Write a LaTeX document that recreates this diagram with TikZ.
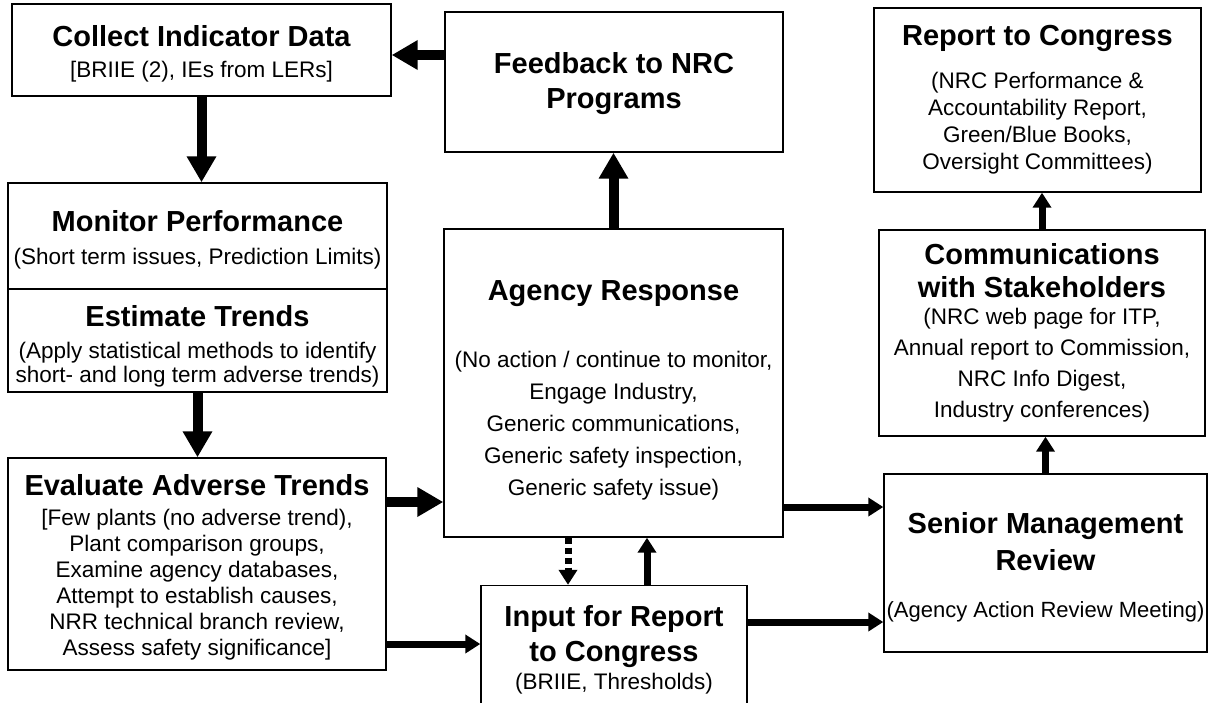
\documentclass[tikz,border=0pt]{standalone}
\usepackage{fontspec}
\setmainfont{Liberation Sans}
\usetikzlibrary{arrows.meta}

\newcommand{\boxtitle}[1]{{\fontsize{29}{34}\selectfont\bfseries #1}}
\newcommand{\boxfont}[1]{\fontsize{22.5}{#1}\selectfont}
\newcommand{\pushdown}[1]{\rule{0pt}{\dimexpr 21pt+#1\relax}}

\begin{document}
\begin{tikzpicture}[x=1pt, y=-1pt]
            \tikzstyle{box} = [draw, line width=1.4pt, align=center, inner sep=0pt]
            \tikzstyle{big} = [line width=10pt, -{Triangle[length=26pt, width=28pt]}]
            \tikzstyle{small} = [line width=7pt, -{Triangle[length=15pt, width=18pt]}]
            \useasboundingbox (0, 0) rectangle (1209, 702);
            \node[box, minimum width=379, minimum height=92, font=\boxfont{31}] (collect) at (201.5, 50)
                {\pushdown{8pt}\boxtitle{Collect Indicator Data}\\{[}BRIIE (2), IEs from LERs{]}};
            \node[box, minimum width=338, minimum height=140, font=\boxfont{35}] (feedback) at (614, 82)
                {\pushdown{4pt}\boxtitle{Feedback to NRC}\\\boxtitle{Programs}};
            \node[box, minimum width=327, minimum height=184, font=\boxfont{27}] (report) at (1037.5, 100)
                {\boxtitle{Report to Congress}\\[16pt](NRC Performance \&\\Accountability Report,\\Green/Blue Books,\\Oversight Committees)};
            \node[box, minimum width=379, minimum height=106, font=\boxfont{33}] (monitor) at (197.5, 236)
                {\pushdown{8pt}\boxtitle{Monitor Performance}\\(Short term issues, Prediction Limits)};
            \node[box, minimum width=379, minimum height=103, font=\boxfont{24}] (estimate) at (197.5, 340.5)
                {\pushdown{12pt}\boxtitle{Estimate Trends}\\[8pt](Apply statistical methods to identify\\short- and long term adverse trends)};
            \node[box, minimum width=339, minimum height=308, font=\boxfont{32}] (agency) at (613.5, 383)
                {\pushdown{14pt}\boxtitle{Agency Response}\\[35pt](No action / continue to monitor,\\Engage Industry,\\Generic communications,\\Generic safety inspection,\\Generic safety issue)};
            \node[box, minimum width=326, minimum height=206, font=\boxfont{31}] (comm) at (1042, 333)
                {\boxtitle{Communications}\\[2pt]\boxtitle{with Stakeholders}\\[-4pt](NRC web page for ITP,\\Annual report to Commission,\\NRC Info Digest,\\Industry conferences)};
            \node[box, minimum width=378, minimum height=212, font=\boxfont{26}] (evaluate) at (197, 564)
                {\pushdown{6pt}\boxtitle{Evaluate Adverse Trends}\\[4pt]{[}Few plants (no adverse trend),\\Plant comparison groups,\\Examine agency databases,\\Attempt to establish causes,\\NRR technical branch review,\\Assess safety significance{]}};
            \node[box, minimum width=266, minimum height=129, font=\boxfont{35}] (input) at (614, 650)
                {\boxtitle{Input for Report}\\\boxtitle{to Congress}\\[-7pt](BRIIE, Thresholds)};
            \node[box, minimum width=323, minimum height=178, font=\boxfont{37}] (senior) at (1045.5, 563)
                {\pushdown{8pt}\boxtitle{Senior Management}\\\boxtitle{Review}\\[10pt]{\fontsize{22}{37}\selectfont(Agency Action Review Meeting)}};
            \draw[big] ([yshift=27pt]feedback.west) -- ([yshift=27pt]feedback.west -| collect.east);
            \draw[big] (collect.south) -- (collect.south |- monitor.north);
            \draw[big] (estimate.south) -- (estimate.south |- evaluate.north);
            \draw[big] (agency.north) -- (agency.north |- feedback.south);
            \draw[big] ([yshift=62pt]evaluate.east) -- ([yshift=62pt]evaluate.east -| agency.west);
            \draw[small] ([yshift=-80pt]evaluate.east) -- ([yshift=-80pt]evaluate.east -| input.west);
            \draw[small] ([yshift=-124pt]agency.east) -- ([yshift=-124pt]agency.east -| senior.west);
            \draw[small] ([yshift=28pt]input.east) -- ([yshift=28pt]input.east -| senior.west);
            \draw[small, dash pattern=on 6pt off 4pt] ([xshift=-45.5pt]agency.south) -- ([xshift=-45.5pt]agency.south |- input.north);
            \draw[small] ([xshift=33pt]input.north) -- ([xshift=33pt]input.north |- agency.south);
            \draw[small] (senior.north) -- (senior.north |- comm.south);
            \draw[small] (comm.north) -- (comm.north |- report.south);
        \end{tikzpicture}
\end{document}
